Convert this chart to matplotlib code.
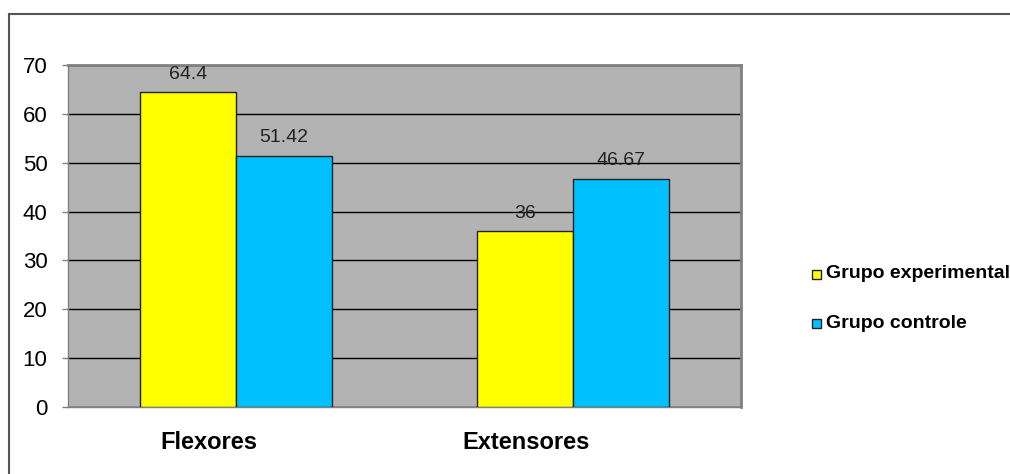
import matplotlib
matplotlib.use("Agg")
import matplotlib.pyplot as plt
import numpy as np
from matplotlib.patches import Rectangle

plt.rcParams['font.family'] = ['Liberation Sans', 'DejaVu Sans']

categories = ["Flexores", "Extensores"]
series_names = ["Grupo experimental", "Grupo controle"]
experimental = [64.4, 36]
controle = [51.42, 46.67]
value_labels_exp = ["64.4", "36"]
value_labels_ctl = ["51.42", "46.67"]
yticks = [0, 10, 20, 30, 40, 50, 60, 70]
colors = ["#FFFF00", "#00C0FF"]

W, H = 1010, 474
fig = plt.figure(figsize=(W / 100, H / 100), dpi=100)
ax = fig.add_axes([68 / W, 1 - 407 / H, (741 - 68) / W, (407 - 65) / H])
ax.set_facecolor("#B3B3B3")

x = np.arange(len(categories))
bw = 0.285
b1 = ax.bar(x - bw / 2, experimental, bw, color=colors[0], edgecolor="#222222", linewidth=1, zorder=3)
b2 = ax.bar(x + bw / 2, controle, bw, color=colors[1], edgecolor="#222222", linewidth=1, zorder=3)

ax.set_xlim(-0.5, 1.5)
ax.set_ylim(0, 70)
ax.set_yticks(yticks)
ax.set_yticklabels([str(t) for t in yticks], fontsize=16)
ax.yaxis.grid(True, color="black", linewidth=1, zorder=1)
ax.set_axisbelow(True)
ax.tick_params(axis='y', length=4.3, width=1, color="#808080", pad=10.5)
# category labels sit left of the group centres, as in the original
label_shift = [0.08, 0.14]
ax.set_xticks(x - np.array(label_shift))
ax.set_xticklabels(categories, fontsize=17, fontweight="bold")
ax.tick_params(axis='x', length=0, pad=17)

for s in ["top", "right"]:
    ax.spines[s].set_color("#808080")
    ax.spines[s].set_linewidth(2)
ax.spines["left"].set_color("#808080")
ax.spines["left"].set_linewidth(1)
ax.spines["bottom"].set_color("#808080")
ax.spines["bottom"].set_linewidth(1)

for rect, lab in zip(b1, value_labels_exp):
    ax.annotate(lab, (rect.get_x() + rect.get_width() / 2, rect.get_height()),
                xytext=(0, 13), textcoords="offset points", ha="center", va="center",
                fontsize=14, color="#222222")
for rect, lab in zip(b2, value_labels_ctl):
    ax.annotate(lab, (rect.get_x() + rect.get_width() / 2, rect.get_height()),
                xytext=(0, 13), textcoords="offset points", ha="center", va="center",
                fontsize=14, color="#222222")

# outer chart frame
fig.patches.append(Rectangle((8.5 / W, -0.1), 1.2, 1 - 14.5 / H + 0.1, transform=fig.transFigure,
                             fill=False, edgecolor="#555555", linewidth=1.5))

# legend
for i, (name, c) in enumerate(zip(series_names, colors)):
    yc = 1 - (274 + 49 * i) / H
    fig.patches.append(Rectangle((812 / W, yc - 4.5 / H), 9 / W, 9 / H, transform=fig.transFigure,
                                 facecolor=c, edgecolor="#222222", linewidth=1))
    fig.text(826 / W, yc, name, fontsize=14, fontweight="bold", va="center", ha="left")

fig.savefig("out.png", dpi=100)
